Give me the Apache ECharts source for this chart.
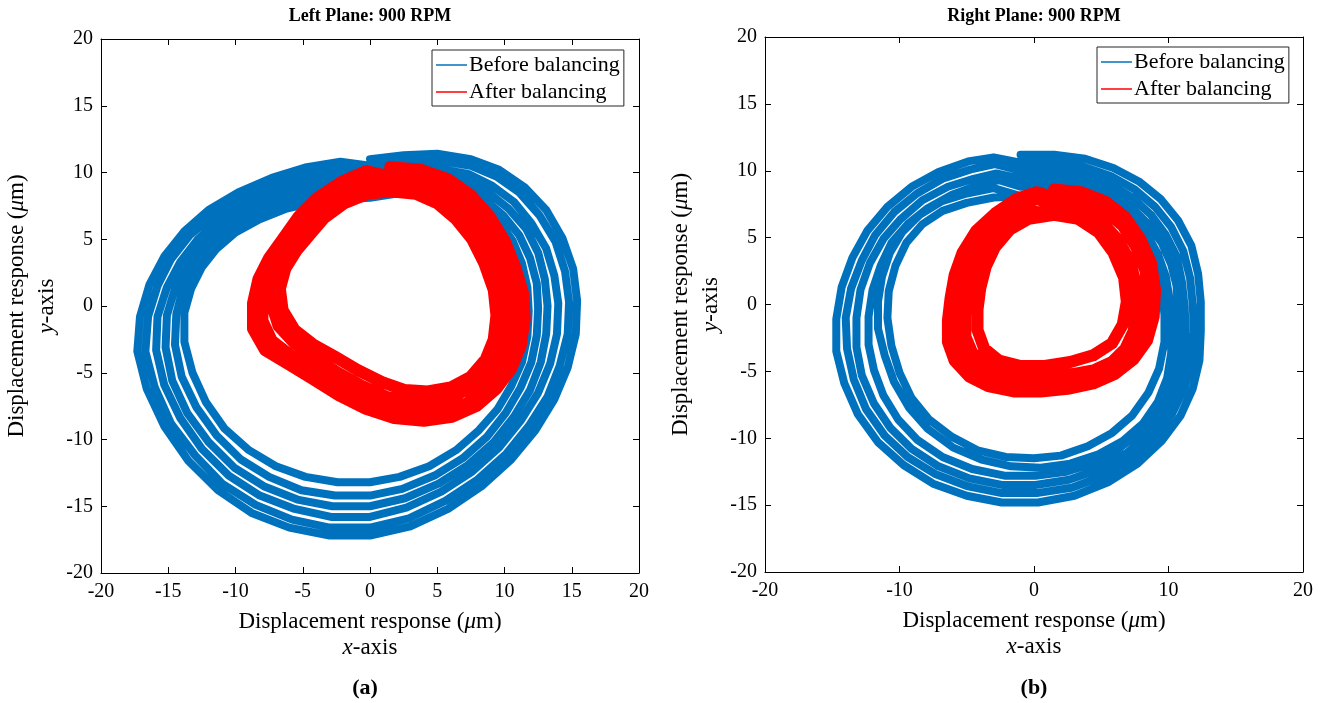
<!DOCTYPE html>
<html>
<head>
<meta charset="utf-8">
<script src="https://cdn.jsdelivr.net/npm/echarts@6.0.0/dist/echarts.min.js"></script>
<style>
  html, body { margin: 0; padding: 0; background: #ffffff; }
  #chart { width: 1328px; height: 703px; }
</style>
</head>
<body>
<div id="chart"></div>
<script>
// Shaft orbit traces at 900 RPM, displacement in µm.
// Each inner array is one revolution, listed as [x, y] pairs.

const axisMin = -20;
const axisMax = 20;
const leftStep = 5;
const rightStep = 10;

const legendNames = ['Before balancing', 'After balancing'];

// Left plane, before balancing
const leftBefore = [
  [[0,11.0],[2.5,11.3],[5,11.4],[7.5,11.0],[9.6,10.2],[11.5,8.9],[13.1,7.2],[14.3,5.1],[15.1,2.8],[15.4,0.4],[15.3,-2.1],[14.7,-4.6],[13.7,-7.0],[12.3,-9.3],[10.5,-11.5],[8.3,-13.5],[5.8,-15.2],[3.0,-16.5],[0.0,-17.2],[-3.0,-17.2],[-6.0,-16.6],[-8.8,-15.5],[-11.3,-13.8],[-13.5,-11.6],[-15.3,-9.0],[-16.6,-6.2],[-17.3,-3.4],[-17.1,-0.8],[-16.4,1.6],[-15.3,3.7],[-13.8,5.6],[-12.0,7.2],[-9.8,8.5],[-7.3,9.6],[-4.7,10.4],[-2.2,10.8]],
  [[0,10.5],[2.5,10.8],[5,10.9],[7.5,10.5],[9.4,9.7],[11.1,8.5],[12.6,6.8],[13.8,4.8],[14.5,2.6],[14.8,0.3],[14.7,-2.1],[14.1,-4.5],[13.2,-6.8],[11.8,-9.0],[10.1,-11.1],[8.0,-13.0],[5.6,-14.6],[2.9,-15.9],[0.0,-16.6],[-3.0,-16.6],[-5.8,-16.0],[-8.5,-14.9],[-11.0,-13.3],[-13.0,-11.2],[-14.8,-8.8],[-16.0,-6.1],[-16.7,-3.4],[-16.5,-0.8],[-15.8,1.5],[-14.8,3.5],[-13.4,5.3],[-11.6,6.8],[-9.5,8.1],[-7.1,9.1],[-4.6,9.9],[-2.2,10.3]],
  [[0,9.9],[2.5,10.2],[5,10.3],[7.3,9.9],[9.1,9.0],[10.7,7.8],[12.0,6.2],[13.1,4.3],[13.7,2.3],[14.0,0.2],[13.9,-2.1],[13.4,-4.3],[12.5,-6.5],[11.2,-8.6],[9.6,-10.6],[7.6,-12.4],[5.3,-13.9],[2.7,-15.1],[0.0,-15.8],[-2.9,-15.8],[-5.6,-15.2],[-8.2,-14.2],[-10.5,-12.7],[-12.5,-10.7],[-14.1,-8.4],[-15.3,-5.9],[-15.9,-3.3],[-15.8,-0.8],[-15.1,1.4],[-14.1,3.3],[-12.8,5.0],[-11.1,6.5],[-9.1,7.7],[-6.8,8.7],[-4.4,9.4],[-2.1,9.8]],
  [[0,9.4],[2.5,9.7],[5,9.8],[7.1,9.4],[8.8,8.5],[10.3,7.3],[11.6,5.8],[12.5,4.0],[13.0,2.0],[13.2,0.0],[13.1,-2.1],[12.7,-4.2],[11.9,-6.3],[10.7,-8.3],[9.2,-10.2],[7.3,-11.9],[5.1,-13.3],[2.6,-14.4],[0.0,-15.0],[-2.8,-15.0],[-5.4,-14.5],[-7.9,-13.5],[-10.1,-12.1],[-12.0,-10.2],[-13.6,-8.0],[-14.7,-5.6],[-15.2,-3.1],[-15.1,-0.7],[-14.5,1.3],[-13.6,3.1],[-12.3,4.7],[-10.7,6.1],[-8.8,7.3],[-6.6,8.2],[-4.3,8.9],[-2.0,9.3]],
  [[0,8.8],[2.5,9.1],[5,9.3],[6.9,8.9],[8.5,8.0],[9.9,6.8],[11.1,5.3],[11.9,3.6],[12.4,1.7],[12.5,-0.2],[12.4,-2.2],[12.0,-4.2],[11.2,-6.1],[10.1,-8.0],[8.7,-9.8],[6.9,-11.4],[4.8,-12.7],[2.4,-13.7],[0.0,-14.2],[-2.6,-14.2],[-5.1,-13.8],[-7.5,-12.8],[-9.6,-11.5],[-11.4,-9.7],[-12.9,-7.6],[-14.0,-5.3],[-14.5,-2.9],[-14.4,-0.6],[-13.9,1.3],[-13.0,3.0],[-11.8,4.5],[-10.3,5.8],[-8.5,6.9],[-6.4,7.8],[-4.1,8.4],[-1.9,8.7]],
  [[0,8.1],[2.5,8.5],[5,8.8],[6.7,8.5],[8.2,7.5],[9.6,6.3],[10.6,4.9],[11.3,3.2],[11.7,1.4],[11.8,-0.4],[11.7,-2.3],[11.3,-4.2],[10.5,-6.0],[9.5,-7.7],[8.1,-9.3],[6.4,-10.8],[4.4,-12.0],[2.2,-12.8],[0.0,-13.2],[-2.4,-13.2],[-4.8,-12.8],[-7.0,-12.0],[-9.0,-10.8],[-10.8,-9.2],[-12.2,-7.2],[-13.2,-5.0],[-13.8,-2.7],[-13.8,-0.5],[-13.3,1.3],[-12.5,2.9],[-11.4,4.3],[-10.0,5.5],[-8.2,6.5],[-6.2,7.3],[-4.0,7.8],[-1.8,8.0],[0,8.1]]
];

// Left plane, after balancing
const leftAfter = [
  [[1.5,10.4],[3.8,10.2],[5.8,9.5],[7.5,8.3],[8.9,6.7],[10.0,4.9],[10.8,2.9],[11.4,0.9],[11.5,-1.0],[11.2,-3.0],[10.5,-4.7],[9.4,-6.2],[7.9,-7.5],[6.1,-8.3],[4.0,-8.6],[1.8,-8.4],[-0.3,-7.7],[-2.3,-6.7],[-4.2,-5.5],[-6.0,-4.4],[-7.8,-3.3],[-8.7,-1.7],[-8.7,0.2],[-8.3,2.0],[-7.5,3.6],[-6.5,5.0],[-5.3,6.7],[-3.9,8.1],[-2.1,9.3],[-0.3,10.1]],
  [[1.5,9.7],[3.7,9.5],[5.5,8.8],[7.1,7.7],[8.4,6.1],[9.4,4.3],[10.2,2.4],[10.7,0.4],[10.8,-1.6],[10.4,-3.4],[9.7,-5.0],[8.6,-6.2],[7.2,-7.3],[5.5,-7.9],[3.5,-8.0],[1.5,-7.7],[-0.5,-7.0],[-2.4,-6.0],[-4.2,-4.9],[-5.9,-3.7],[-7.3,-2.6],[-8.0,-1.1],[-8.0,0.6],[-7.6,2.2],[-6.9,3.7],[-6.0,5.0],[-4.8,6.5],[-3.5,7.8],[-1.9,8.8],[-0.1,9.4]],
  [[1.5,9.1],[3.5,8.9],[5.3,8.2],[6.8,7.0],[8.0,5.5],[8.9,3.7],[9.7,1.8],[10.1,-0.2],[10.0,-2.0],[9.5,-3.7],[8.7,-5.0],[7.6,-6.0],[6.2,-6.8],[4.7,-7.2],[3.0,-7.2],[1.2,-6.8],[-0.6,-6.0],[-2.4,-5.0],[-4.1,-3.9],[-5.6,-2.8],[-6.8,-1.5],[-7.3,0.1],[-7.2,1.7],[-6.8,3.1],[-6.1,4.3],[-5.2,5.4],[-4.0,6.8],[-2.7,8.0],[-1.0,8.8],[0.2,9.0]],
  [[1.5,8.6],[3.4,8.4],[5.0,7.7],[6.4,6.5],[7.6,5.0],[8.5,3.2],[9.2,1.2],[9.4,-0.7],[9.2,-2.5],[8.6,-4.0],[7.5,-5.3],[6.0,-6.1],[4.3,-6.4],[2.6,-6.3],[0.9,-5.7],[-0.9,-4.8],[-2.6,-3.8],[-4.2,-2.9],[-5.6,-1.8],[-6.5,-0.3],[-6.7,1.3],[-6.3,2.8],[-5.5,4.1],[-4.5,5.3],[-3.4,6.6],[-1.9,7.7],[-0.2,8.4],[1.5,8.6]]
];

// Right plane, before balancing
const rightBefore = [
  [[-1,11.2],[1.5,11.2],[3.8,10.9],[5.9,10.2],[7.8,9.2],[9.4,7.9],[10.7,6.3],[11.7,4.4],[12.2,2.3],[12.4,0.2],[12.4,-2.0],[12.3,-4.2],[11.8,-6.3],[10.9,-8.3],[9.5,-10.2],[7.7,-11.9],[5.5,-13.3],[3.0,-14.3],[0.3,-14.8],[-2.4,-14.8],[-5.0,-14.3],[-7.5,-13.4],[-9.7,-12.0],[-11.6,-10.3],[-13.1,-8.2],[-14.1,-5.9],[-14.7,-3.5],[-14.7,-1.1],[-14.3,1.3],[-13.5,3.5],[-12.4,5.5],[-10.9,7.3],[-9.1,8.8],[-7.1,9.9],[-4.9,10.7],[-3.0,11.0]],
  [[-1,10.6],[1.5,10.6],[3.7,10.3],[5.7,9.6],[7.5,8.6],[9.0,7.3],[10.2,5.8],[11.1,4.0],[11.6,2.0],[11.8,0.0],[11.9,-2.1],[11.7,-4.2],[11.2,-6.2],[10.3,-8.1],[9.0,-9.9],[7.3,-11.5],[5.2,-12.8],[2.8,-13.7],[0.2,-14.1],[-2.4,-14.1],[-4.9,-13.6],[-7.3,-12.7],[-9.4,-11.4],[-11.1,-9.8],[-12.5,-7.8],[-13.4,-5.6],[-13.9,-3.3],[-14.0,-1.0],[-13.6,1.2],[-12.8,3.3],[-11.8,5.2],[-10.4,6.9],[-8.7,8.3],[-6.8,9.4],[-4.7,10.1],[-2.9,10.5]],
  [[-1,10.0],[1.5,10.0],[3.7,9.7],[5.6,9.0],[7.3,8.0],[8.7,6.7],[9.8,5.2],[10.6,3.6],[11.0,1.7],[11.2,-0.2],[11.3,-2.2],[11.1,-4.3],[10.6,-6.2],[9.7,-8.0],[8.5,-9.7],[6.9,-11.1],[4.9,-12.3],[2.6,-13.1],[0.1,-13.5],[-2.3,-13.5],[-4.8,-13.0],[-7.1,-12.1],[-9.1,-10.8],[-10.7,-9.2],[-11.9,-7.4],[-12.8,-5.3],[-13.2,-3.2],[-13.2,-1.0],[-12.9,1.1],[-12.2,3.1],[-11.2,4.9],[-9.9,6.4],[-8.3,7.8],[-6.4,8.8],[-4.5,9.4],[-2.8,9.8]],
  [[-1,9.4],[1.5,9.4],[3.6,9.1],[5.5,8.5],[7.1,7.4],[8.4,6.1],[9.5,4.6],[10.2,3.0],[10.6,1.4],[10.7,-0.4],[10.7,-2.4],[10.5,-4.4],[10.0,-6.3],[9.1,-8.0],[7.9,-9.5],[6.4,-10.7],[4.6,-11.8],[2.4,-12.5],[0.1,-12.8],[-2.2,-12.8],[-4.6,-12.3],[-6.8,-11.4],[-8.7,-10.1],[-10.1,-8.6],[-11.2,-6.8],[-11.9,-4.9],[-12.3,-3.0],[-12.3,-0.9],[-12.0,1.1],[-11.4,2.9],[-10.6,4.6],[-9.4,6.0],[-7.9,7.2],[-6.1,8.2],[-4.2,8.9],[-2.6,9.3]],
  [[-1,8.8],[1.5,8.8],[3.6,8.6],[5.4,7.9],[7.0,6.8],[8.3,5.4],[9.2,3.8],[9.8,2.1],[10.1,0.3],[10.2,-1.6],[10.2,-3.6],[9.9,-5.5],[9.2,-7.3],[8.1,-8.9],[6.6,-10.2],[4.8,-11.2],[2.7,-11.9],[0.5,-12.2],[-1.7,-12.1],[-3.9,-11.6],[-6.0,-10.7],[-7.9,-9.3],[-9.3,-7.7],[-10.4,-5.8],[-11.1,-3.8],[-11.6,-1.8],[-11.6,0.2],[-11.3,2.1],[-10.7,3.9],[-9.8,5.4],[-8.5,6.7],[-6.9,7.7],[-5.0,8.3],[-3.0,8.7]],
  [[-1,8.1],[1.5,8.2],[3.6,8.0],[5.4,7.3],[6.9,6.2],[8.1,4.8],[9.0,3.1],[9.5,1.2],[9.7,-0.8],[9.7,-2.8],[9.3,-4.8],[8.5,-6.6],[7.3,-8.3],[5.8,-9.6],[4.0,-10.6],[2.0,-11.3],[0.0,-11.5],[-2.1,-11.4],[-4.2,-10.9],[-6.1,-9.9],[-7.8,-8.6],[-9.1,-7.0],[-10.0,-5.1],[-10.6,-3.1],[-10.9,-1.0],[-10.8,1.0],[-10.3,2.9],[-9.5,4.6],[-8.3,6.0],[-6.8,7.0],[-5.0,7.6],[-3.0,8.0],[-1,8.1]]
];

// Right plane, after balancing
const rightAfter = [
  [[1.5,8.6],[3.5,8.4],[5.3,7.7],[6.8,6.5],[7.9,4.9],[8.7,3.1],[9.0,1.1],[8.9,-0.9],[8.4,-2.7],[7.4,-4.1],[6.0,-5.2],[4.4,-5.9],[2.5,-6.3],[0.5,-6.5],[-1.5,-6.5],[-3.4,-6.1],[-4.8,-5.4],[-5.9,-4.2],[-6.4,-2.8],[-6.4,-1.2],[-6.2,0.5],[-5.9,2.2],[-5.3,3.9],[-4.3,5.5],[-2.9,6.8],[-1.3,7.9],[0.2,8.4]],
  [[1.5,8.0],[3.5,7.8],[5.2,7.1],[6.6,5.9],[7.6,4.3],[8.3,2.5],[8.5,0.6],[8.3,-1.3],[7.8,-2.9],[6.8,-4.2],[5.5,-5.1],[3.8,-5.6],[2.0,-5.9],[0.1,-6.0],[-1.7,-6.0],[-3.3,-5.6],[-4.6,-4.8],[-5.5,-3.7],[-5.9,-2.4],[-5.9,-0.9],[-5.7,0.7],[-5.3,2.3],[-4.7,3.9],[-3.8,5.3],[-2.5,6.6],[-1.0,7.5],[0.3,7.9]],
  [[1.5,7.3],[3.4,7.0],[5.0,6.2],[6.2,4.9],[7.1,3.3],[7.6,1.5],[7.7,-0.3],[7.4,-2.0],[6.8,-3.3],[5.8,-4.3],[4.5,-4.9],[2.9,-5.2],[1.1,-5.4],[-0.7,-5.4],[-2.3,-5.1],[-3.6,-4.5],[-4.6,-3.6],[-5.1,-2.4],[-5.1,-0.8],[-4.9,0.9],[-4.5,2.5],[-3.9,4.0],[-3.0,5.3],[-1.9,6.3],[-0.3,7.0]],
  [[1.5,6.7],[3.3,6.4],[4.8,5.4],[5.9,3.9],[6.7,2.0],[6.9,0.2],[6.6,-1.5],[5.8,-2.9],[4.4,-3.8],[2.7,-4.3],[0.8,-4.6],[-1.0,-4.6],[-2.6,-4.2],[-3.7,-3.3],[-4.2,-1.9],[-4.2,-0.4],[-4.0,1.2],[-3.6,2.8],[-2.9,4.3],[-1.8,5.6],[-0.4,6.4],[1.5,6.7]]
];

const BLUE = '#0072BD';
const RED = '#FF0000';
const SERIF = '"Liberation Serif", "Times New Roman", serif';

const grids = [
  { left: 101, top: 39, width: 538, height: 534 },
  { left: 765, top: 37, width: 538, height: 535 }
];

const nameStyle = (lh) => ({
  color: '#000', fontFamily: SERIF, fontSize: 23, lineHeight: lh, align: 'center',
  rich: {
    n: { fontFamily: SERIF, fontSize: 23, lineHeight: lh, color: '#000' },
    i: { fontFamily: SERIF, fontSize: 23, lineHeight: lh, color: '#000', fontStyle: 'italic' }
  }
});

function xAxes(gi, step) {
  const common = {
    gridIndex: gi, type: 'value', min: axisMin, max: axisMax, interval: step,
    splitLine: { show: false },
    axisLine: { show: true, onZero: false, lineStyle: { color: '#000', width: 1 } },
    axisTick: { show: true, inside: true, length: 6, lineStyle: { color: '#000', width: 1 } }
  };
  return [
    Object.assign({}, common, {
      position: 'bottom',
      axisLabel: { show: true, color: '#000', fontFamily: SERIF, fontSize: 20, margin: 9 },
      name: '{n|Displacement response (}{i|\u03bc}{n|m)}\n{i|x}{n|-axis}',
      nameLocation: 'middle',
      nameGap: 36,
      nameTextStyle: nameStyle(26)
    }),
    Object.assign({}, common, { position: 'top', axisLabel: { show: false } })
  ];
}

function yAxes(gi) {
  const common = {
    gridIndex: gi, type: 'value', min: axisMin, max: axisMax, interval: 5,
    splitLine: { show: false },
    axisLine: { show: true, onZero: false, lineStyle: { color: '#000', width: 1 } },
    axisTick: { show: true, inside: true, length: 6, lineStyle: { color: '#000', width: 1 } }
  };
  return [
    Object.assign({}, common, {
      position: 'left',
      axisLabel: { show: true, color: '#000', fontFamily: SERIF, fontSize: 20, margin: 8 },
      name: '{n|Displacement response (}{i|\u03bc}{n|m)}\n{i|y}{n|-axis}',
      nameLocation: 'middle',
      nameGap: 27,
      nameTextStyle: nameStyle(30)
    }),
    Object.assign({}, common, { position: 'right', axisLabel: { show: false } })
  ];
}

function orbit(name, loops, color, width, xi, yi) {
  return {
    name: name, type: 'line', xAxisIndex: xi, yAxisIndex: yi,
    data: loops.flat(),
    showSymbol: false, symbol: 'none', smooth: false, clip: true, silent: true,
    lineStyle: { color: color, width: width, join: 'round', cap: 'round' },
    itemStyle: { color: color },
    emphasis: { disabled: true }
  };
}

function legendAt(left, top) {
  return {
    orient: 'vertical', left: left, top: top,
    data: legendNames,
    icon: 'rect',
    itemWidth: 31, itemHeight: 1.5, itemGap: 5,
    padding: [4, 4, 3, 4],
    backgroundColor: '#fff',
    borderColor: '#262626', borderWidth: 1,
    textStyle: { fontFamily: SERIF, fontSize: 22, color: '#000', padding: [0, 0, 0, -3] },
    selectedMode: false
  };
}

function label(x, y, text, size, bold) {
  return {
    type: 'text', x: x, y: y, silent: true,
    style: {
      text: text, fill: '#000', align: 'center', verticalAlign: 'middle',
      font: (bold ? 'bold ' : '') + size + 'px ' + SERIF
    }
  };
}

const chart = echarts.init(document.getElementById('chart'), null, { renderer: 'canvas' });
chart.setOption({
  backgroundColor: '#ffffff',
  animation: false,
  grid: grids,
  xAxis: [...xAxes(0, leftStep), ...xAxes(1, rightStep)],
  yAxis: [...yAxes(0), ...yAxes(1)],
  legend: [legendAt(432, 50), legendAt(1097, 47)],
  series: [
    orbit(legendNames[0], leftBefore, BLUE, 8, 0, 0),
    orbit(legendNames[1], leftAfter, RED, 12, 0, 0),
    orbit(legendNames[0], rightBefore, BLUE, 8, 2, 2),
    orbit(legendNames[1], rightAfter, RED, 12, 2, 2)
  ],
  graphic: [
    label(370, 16, 'Left Plane: 900 RPM', 18, true),
    label(1034, 16, 'Right Plane: 900 RPM', 18, true),
    label(365, 688, '(a)', 22, true),
    label(1034, 688, '(b)', 22, true)
  ]
});
</script>
</body>
</html>
